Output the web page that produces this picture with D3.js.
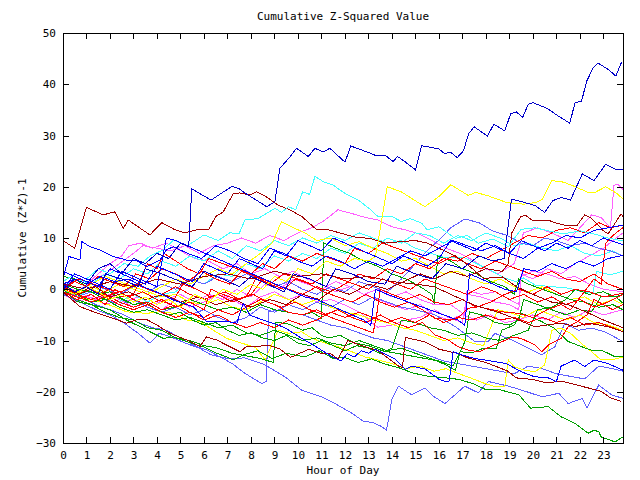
<!DOCTYPE html>
<html><head><meta charset="utf-8">
<script src="https://cdn.jsdelivr.net/npm/d3@7"></script>
<style>
body{margin:0;background:#fff;}
text{font-family:"DejaVu Sans Mono",monospace;font-size:11px;fill:#000;}
</style></head>
<body>
<script>
const title = "Cumulative Z-Squared Value";
const xLabel = "Hour of Day";
const yLabel = "Cumulative (Z*Z)-1";
const xTicks = d3.range(0, 24);
const yTicks = [-30, -20, -10, 0, 10, 20, 30, 40, 50];

// [hour, cumulative value]
const s01 = [[0,0],[0.5,2],[1,1],[1.5,4],[2,5],[2.5,3],[3,6],[3.5,5],[4,7],[4.5,6],[5,9],[5.35,8.3],[5.48,19.6],[5.7,19],[6.3,17.4],[7.2,20.1],[7.5,19.6],[7.74,18.8],[8.67,16.1],[9.02,17.1],[9.23,23.6],[9.6,25.5],[9.94,27.5],[10.44,25.9],[10.72,27.5],[11.08,26.8],[11.36,27.5],[12.0,24.8],[12.25,27.95],[12.7,27.2],[13.1,26.5],[13.35,26],[13.7,26.2],[14.05,24.9],[14.24,25.9],[14.55,24.9],[15.0,23.3],[15.26,28.0],[16.0,27.4],[16.25,26.4],[16.47,26.8],[16.78,25.7],[17.04,27.0],[17.27,30.4],[17.5,31.7],[18.06,29.9],[18.34,32.2],[18.8,30.9],[19.05,34.2],[19.3,34.6],[19.56,33.5],[19.8,36.1],[20.0,36.4],[20.6,35.3],[21.08,33.8],[21.57,32.4],[21.79,36.4],[22.07,36.7],[22.28,40.5],[22.57,43.3],[22.78,44.1],[23.2,42.9],[23.53,41.6],[23.77,44.3]];
const s02 = [[0,9.5],[0.5,8],[1.0,16],[1.7,14.5],[2.2,15.1],[2.57,11.9],[2.78,13.5],[3.7,10.6],[4.2,13],[4.77,11.6],[5.19,11],[5.69,11.6],[6.2,11.6],[6.5,14.2],[6.82,15.1],[7.25,18.7],[7.53,18.8],[7.96,18.4],[8.24,19],[8.6,18.2],[9.16,16.4],[9.66,15.5],[10.16,14.2],[10.8,11.6],[11.3,11.6],[12.4,10.2],[13.1,9.9],[13.7,9.0],[14.4,9.3],[15.0,9.5],[15.5,9.0],[16,8],[16.7,6.5],[17.3,4.5],[17.9,2.1],[18.7,2.4],[19.3,0.5],[20,-1],[20.8,-2.5],[21.5,-3],[22.3,-4.5],[23,-6],[23.83,-7.5]];
const s03 = [[0,0.5],[0.7,-1],[1.4,0.5],[2,-1.5],[2.8,-0.5],[3.5,-2],[4.3,-1],[5,-2.5],[5.8,-1.5],[6.5,-3],[7.3,-2],[8,-3.5],[8.8,-2],[9.5,-3],[10.2,-1],[10.9,-2],[11.5,0],[12.2,-1],[13,1],[13.8,0],[14.5,1.5],[15.2,3],[15.8,2],[16.5,3.5],[17.2,2.5],[18,4],[18.7,3.5],[18.95,5],[19.1,11],[19.48,14.2],[19.7,14.4],[19.98,13.4],[20.7,13.4],[21.0,12.9],[21.43,12.4],[21.87,12.4],[22.2,14.5],[22.5,13.8],[23.0,11.4],[23.2,10.8],[23.75,14.7],[23.83,14.2]];
const s04 = [[0,-0.5],[0.72,-3.4],[1.3,-4.4],[2.14,-5.7],[2.7,-6.6],[3.1,-6.0],[3.56,-5.9],[4.0,-7.0],[4.55,-8.6],[5.26,-9.9],[5.83,-11.2],[6.1,-9.3],[6.54,-9.9],[7.1,-11.2],[7.53,-12.2],[7.8,-11.2],[8.8,-11],[9.25,-11.7],[9.68,-13.3],[10.47,-11.7],[11.05,-12.6],[11.4,-12.6],[11.7,-13.6],[12.13,-10],[12.7,-11],[13.42,-12],[14.28,-15],[14.45,-15.3],[14.57,-9.4],[15.43,-10.3],[16.0,-11.7],[16.87,-12.6],[17.16,-13.3],[18.0,-14.3],[18.9,-15.9],[19.3,-17.3],[20.0,-17.6],[20.6,-18.3],[21.2,-17.9],[22.05,-18.9],[22.9,-19.9],[23.3,-21.2],[23.77,-21.9]];
const s05 = [[0,1],[1,0],[2,1.5],[3,0.5],[4,2],[5,1],[6,2.5],[7,3],[8,2],[9,3.5],[10,2.5],[11,3],[12,2],[13,2.5],[14,1.5],[15,1],[15.8,0.5],[16.5,-1],[17.5,-3.1],[18.67,-4.7],[20.08,-7.3],[21.2,-6.6],[21.8,-7.3],[22.35,-6.6],[23.2,-7.3],[23.83,-8.3]];
const s06 = [[0,1],[0.5,-0.5],[1,0.5],[1.5,-1],[1.8,3],[2.5,2],[3.2,0.5],[3.5,4],[4.2,3],[5,1.5],[5.5,0.5],[6,3.5],[6.8,2],[7.5,0.5],[8,2.5],[8.7,1],[9.4,-0.5],[9.8,3],[10.5,2],[11.2,0.5],[11.6,4],[12.3,3],[13,1.5],[13.7,1],[14.2,4.5],[15,3],[15.7,2],[16.3,5],[17,4],[17.7,6.5],[18.3,5.5],[18.77,6],[19.09,17.6],[19.6,17],[20.1,16.3],[20.5,15],[20.85,17.3],[21.2,17.9],[21.6,17.4],[22.1,22.5],[22.6,21.2],[23.1,24.4],[23.55,23.3],[23.83,23.3]];
const s07 = [[0,0],[0.5,-1],[1,0.5],[1.5,-0.5],[2,-2],[2.5,-1],[3,-2.5],[3.5,-1.5],[4,-3],[4.5,-2],[5,-3.5],[5.6,-1],[6.2,-2.5],[6.8,0],[7.4,-1],[8,1],[8.5,0],[9,2.5],[9.5,1.5],[10,4],[10.6,3],[11.2,5.5],[11.8,4.5],[12.4,6],[13,5.5],[13.3,6.4],[13.8,20],[14.4,19],[15.4,16.1],[16.0,18.1],[16.5,20.4],[17.25,18.3],[17.55,18.9],[18.05,18.3],[18.9,16.9],[19.6,16.6],[20.1,16.9],[20.4,17.5],[20.8,21.2],[21.3,20.9],[21.7,20.2],[22.35,18.9],[22.6,18.8],[23.1,20],[23.6,18.6],[23.83,17.6]];
const s08 = [[0,1.5],[0.5,3],[1,2],[1.5,4],[2,3],[2.6,5],[3.2,4.5],[3.7,6.5],[4.27,7.7],[4.7,9.6],[5.3,8.5],[6.0,10.6],[6.6,9.5],[7.1,11],[7.5,10.9],[7.74,13.5],[8.3,13.8],[9.02,15.8],[9.3,15],[9.6,16.1],[9.9,15.5],[10.2,19],[10.5,18.5],[10.72,22],[11.08,21],[11.5,20.3],[12,18.7],[12.57,17.4],[13.1,15.5],[13.4,14.2],[14,14.2],[14.4,13.2],[14.77,13.8],[15.26,12.9],[15.5,11.6],[16,12.2],[16.7,9.9],[17.2,10.5],[17.67,9],[18.3,9.8],[18.95,8.3],[19.5,11.7],[20.1,12],[20.65,11.4],[21.3,10.8],[22,11.4],[22.6,10.8],[23.1,10.1],[23.83,9.4]];
const s09 = [[0,0.5],[0.6,2],[1.2,1],[1.8,3],[2.4,2],[3,4],[3.6,3],[4.2,5.5],[4.8,4.5],[5.4,6.5],[6,5.5],[6.6,7.5],[7.2,6],[7.8,8.5],[8.4,7.5],[9,9.5],[9.6,8.5],[10.2,10],[10.8,9],[11.4,10.5],[12,9.5],[12.6,11],[13.2,10],[13.8,9],[14.4,9.5],[15,8],[15.8,6.8],[16.3,6.1],[17.1,6.1],[17.7,4.8],[18.27,3.5],[18.8,2.2],[19.26,1.5],[19.6,2.2],[20.1,0.8],[20.84,0.5],[21.56,0.2],[22.1,-0.5],[22.56,-0.8],[22.7,3.5],[23.28,2.8],[23.83,3.5]];
const s10 = [[0,-0.5],[0.6,-1.5],[1.2,0],[1.8,-1],[2.4,-2.5],[3,-1],[3.6,-2.5],[4.2,-1],[4.8,-0.5],[5.4,2],[6,1],[6.6,3],[7.2,2.5],[7.8,5],[8.4,4],[9,6.5],[9.6,5.5],[10.2,7],[10.8,6],[11.4,8],[12,7],[12.6,9],[13.2,8],[13.8,10],[14.4,9],[15,11],[15.6,10.5],[16.2,9],[16.8,10.5],[17.4,9.5],[18,11],[18.6,10],[19.2,8.5],[19.8,9],[20.4,8],[21,7.5],[21.6,8.5],[22.2,7],[22.8,6.5],[23.4,7.5],[23.83,6.5]];
const s11 = [[0,-1],[0.6,-0.5],[1.2,1.5],[1.8,3],[2.4,5],[3,7],[3.4,8.5],[4,8],[4.6,7.5],[5.2,8.5],[5.8,7],[6.4,8.5],[7,9],[7.6,10],[8.2,9],[8.8,10.5],[9.4,9.5],[10,11],[10.6,12],[11.15,13.5],[11.7,15.5],[12.28,14.8],[12.7,14.2],[13.4,13.5],[14,12.2],[14.55,11.6],[15.1,10.9],[15.7,9.5],[16.3,8],[16.9,7],[17.5,5.5],[18,4],[18.5,3],[19.2,5],[19.6,11],[20.2,12],[20.8,11],[21.5,9.5],[22.0,12],[22.5,14.5],[22.9,14],[23.3,12],[23.45,20.3],[23.6,20.5],[23.83,19.5]];
const s12 = [[0,0.5],[0.7,-0.5],[1.3,-2],[2,-1],[2.6,-2.5],[3.2,-1.5],[3.8,-3],[4.4,-2],[5,-1],[5.6,-2.5],[6.2,-1],[6.8,-2],[7.4,0],[8,-1.5],[8.6,1],[9.2,0],[9.8,2],[10.4,1],[11,0],[11.6,1.5],[12.2,0.5],[12.8,-1],[13.4,0],[14,-1.5],[14.6,-0.5],[15.2,-2],[15.8,-3],[16.5,-3],[17.1,-5],[17.2,-0.2],[17.8,-1],[18.4,-0.5],[19,-2],[19.4,-3],[19.5,3],[20,2],[20.6,4],[21.2,3],[21.8,5],[22.4,6.5],[23,8],[23.4,9.5],[23.83,11]];
const s13 = [[0,-1],[0.6,-2.5],[1.2,-1.5],[1.8,-3],[2.4,-2],[3,-3.5],[3.6,-2.5],[4.2,-4],[4.8,-2],[5.4,-3.5],[6,-2.5],[6.6,-1],[7.2,-2],[7.8,-3.5],[8.4,-1.5],[9,-0.5],[9.6,-2],[10.2,-1],[10.8,-2.5],[11.4,-2],[12,-3.1],[12.7,-4.7],[13.1,-6.4],[13.4,-7.4],[14,-7],[14.6,-6],[15.2,-5.5],[15.8,-4],[16.4,-5.5],[17,-6.5],[17.2,-1],[17.8,-1.5],[18.4,-2.5],[19,-3],[19.4,-4],[19.5,2.5],[20,3.5],[20.6,3],[21.2,2],[21.8,2.5],[22.4,1],[23,0],[23.83,-0.5]];
const s14 = [[0,0.5],[0.5,2],[1,1],[1.5,3],[2,5],[2.5,6.5],[2.8,8.5],[3.3,9],[3.8,8],[4.4,9],[5,7.5],[5.6,6],[6.2,5.5],[6.8,4],[7.4,5],[8,3],[8.6,4],[9.2,2.5],[9.8,3.5],[10.4,2],[11,1],[11.6,-0.5],[12.2,0.5],[12.8,-1],[13.4,-2],[14,-3],[14.6,-4],[15.2,-3],[15.8,-5],[16.4,-6],[17,-5],[17.6,-6],[18.2,-5],[18.8,-6.5],[19.4,-6],[20,-5],[20.6,-6],[21.2,-4.5],[21.8,-5.5],[22.4,-4],[23,-5],[23.83,-4]];
const s15 = [[0,0],[0.5,1.5],[1,0.5],[1.5,2.5],[2,1.5],[2.6,0.5],[3.1,3],[3.7,2],[4.2,4],[4.8,3],[5.3,1.5],[5.9,3.5],[6.5,2],[7.1,1],[7.6,3.5],[8.2,2.5],[8.8,1],[9.4,0],[9.9,2],[10.5,1],[11.1,-0.5],[11.7,-1.5],[12.3,-2.5],[12.9,-1],[13.5,-2.5],[14.1,-3.5],[14.7,-2.5],[15.3,-4],[15.83,-5.7],[16.7,-6],[17.25,-3.7],[17.67,-3.4],[18.67,-4.4],[19.4,-4.7],[20,-5.5],[20.6,-4],[21.2,-3],[21.6,-4],[22.1,-1],[22.6,2],[22.9,1],[23.1,9],[23.4,10.5],[23.83,12]];
const s16 = [[0,-0.5],[0.6,-2],[1.2,-1],[1.8,-3],[2.2,0],[2.8,-1.5],[3.4,-0.5],[4,-2],[4.6,-3],[5.1,1],[5.7,0],[6.3,-1.5],[6.9,-0.5],[7.5,-2],[8.1,-1],[8.7,-2.5],[9.3,-3.5],[9.9,-2.5],[10.5,-4],[11.1,-5],[11.7,-4],[12.3,-5.5],[12.9,-6.5],[13.5,-5],[14.1,-6.5],[14.7,-7.5],[15.3,-6.5],[15.83,-8.9],[16.4,-9.9],[16.8,-11.2],[17.25,-11.9],[17.7,-12.2],[18.3,-11],[18.8,-10],[19.1,-9.3],[19.5,-9.6],[20.1,-10.9],[20.37,-12.2],[20.65,-10.9],[21.2,-9.6],[21.5,-7.3],[21.8,-6.6],[22.3,-5],[22.6,-2],[23,-3],[23.4,-4],[23.83,-3]];
const s17 = [[0,1],[0.5,-0.5],[1,0.5],[1.5,-1],[2,0],[2.5,-1.5],[3,-1],[3.4,3],[3.6,5],[4,4],[4.3,7],[4.8,5.5],[5.3,4],[5.8,3],[6.2,6],[6.8,5],[7.4,4],[8,3],[8.5,5],[9,4],[9.6,6.5],[10.2,5.5],[10.8,7],[11.4,6],[12,5],[12.4,8],[13,7],[13.6,9],[14.2,8],[14.8,7],[15.4,6],[16,5],[16.6,6.5],[17.2,5],[17.8,4],[18.4,5.5],[19,4.5],[19.6,3.5],[20.2,2.5],[20.8,3.5],[21.4,2],[22,1.5],[22.6,3],[23.2,1],[23.83,0]];
const s18 = [[0,0.5],[0.6,-1],[1.2,0],[1.8,-1.5],[2.4,-0.5],[3,-2],[3.6,-3],[4.2,-2],[4.8,-3.5],[5.4,-2.5],[6,-4],[6.3,0],[6.8,-1],[7.4,-2],[8,-1],[8.5,2],[9,1],[9.6,0],[10.2,-1],[10.8,0.5],[11.4,-0.5],[12,1],[12.6,3],[13.2,2],[13.8,4],[14.4,3],[15,5],[15.6,4],[16.2,6],[16.8,5.5],[17.4,7],[18,6],[18.6,7.5],[19.2,9],[19.8,10.5],[20.4,10],[21,11.5],[21.6,12],[22.2,11],[22.8,13],[23.3,12],[23.83,12.5]];
const s19 = [[0,-0.5],[0.6,-1.5],[1.2,-2.5],[1.8,-1.5],[2.4,-3],[3,-4],[3.6,-3],[4.2,-4.5],[4.8,-5.5],[5.4,-4.5],[6,-6],[6.6,-5],[7.2,-6.5],[7.8,-7.5],[8.4,-6.5],[9,-7.5],[9.6,-6],[10.2,-7],[10.8,-6],[11.4,-4.5],[12,-5.5],[12.6,-4.5],[13.2,-5.5],[13.8,-6.5],[14.4,-5.5],[15,-6.5],[15.6,-5],[16.2,-6.5],[16.8,-5.5],[17.4,-6],[18,-5],[18.6,-6],[19.2,-5.5],[19.8,-6.5],[20.4,-5.5],[21,-6.5],[21.6,-5.5],[22.2,-7],[22.8,-6.5],[23.4,-7.5],[23.83,-8.3]];
const s20 = [[0,0],[0.6,-1],[1.2,-2],[1.8,-1],[2.4,-2.5],[3,-3.5],[3.6,-2.5],[4.2,-4],[4.8,-3],[5.4,-4.5],[6,-5.5],[6.6,-4],[7.2,-5],[7.8,-3.5],[8.4,-2],[9,-3],[9.6,-4.5],[10.2,-5],[10.8,-4],[11.4,-5.5],[12,-6.5],[12.6,-7.5],[13.2,-8.5],[13.35,-5],[13.5,0],[14,-1],[14.6,-2],[15.2,-1],[15.8,-2.5],[16.4,-3],[17,-2],[17.6,-3.5],[18.2,-2.5],[18.8,-1],[19.4,0],[20,-1],[20.6,0.5],[21.2,-1],[21.8,0],[22.4,-0.5],[23,-1.5],[23.83,-0.8]];
const s21 = [[0,0.5],[0.7,2],[1.3,1],[1.9,0],[2.5,-0.5],[3.1,1],[3.6,0],[4.2,-1],[4.8,0.5],[5.4,-1],[6,-2],[6.6,-1],[7.2,-2.5],[7.8,-1.5],[8.2,2],[8.8,1],[9.4,3],[10,2],[10.6,1],[11.2,3],[11.8,2],[12.4,1],[13,0],[13.6,2],[14.2,1],[14.8,0],[15.4,2],[16,1],[16.6,0],[17.2,-1],[17.8,0.5],[18.4,-0.5],[19,-2],[19.6,-1],[20.2,-2.5],[20.8,-1.5],[21.4,-3],[22,-2],[22.6,-3.5],[23.2,-2.5],[23.83,-1]];
const s22 = [[0,0],[0.58,-2.4],[1.29,-3.1],[2.0,-4],[2.7,-6],[3.28,-7.3],[3.84,-8.6],[4.27,-9.6],[4.7,-9.3],[5.26,-10.2],[5.7,-10.9],[5.97,-11.2],[6.54,-12.5],[6.97,-13.2],[7.25,-13.8],[7.67,-12.8],[8.3,-12],[8.9,-13.5],[9.5,-12.5],[10.3,-13.2],[10.9,-12],[11.5,-13.5],[11.98,-13.3],[12.56,-14.3],[13.13,-13.6],[13.7,-14.6],[14.28,-15.3],[14.86,-16.3],[15.43,-16.9],[16.3,-17.3],[16.87,-17.6],[17.5,-18.5],[18.0,-19.6],[18.5,-19.5],[19.4,-20.6],[19.9,-23.2],[20.4,-23],[20.65,-22.9],[21.2,-24.9],[21.5,-25.5],[21.8,-26.2],[22.35,-28.1],[22.6,-27.5],[22.8,-27.8],[22.9,-28.8],[23.5,-29.8],[23.83,-28.8]];
const s23 = [[0,-0.5],[0.6,-1],[1.2,-2.5],[1.8,-2],[2.4,-3.5],[3,-4.5],[3.6,-4],[4.2,-5],[4.8,-6],[5.4,-5.5],[6,-6.5],[6.6,-7.5],[7.2,-7],[7.8,-8.5],[8.4,-9],[9,-8],[9.6,-9],[10.2,-10],[10.8,-9.5],[11.4,-10.5],[12,-11],[12.6,-10],[13.2,-11],[13.8,-12],[14.4,-11.5],[15,-12.5],[15.83,-13.8],[16.3,-14.8],[16.7,-15.8],[16.9,-12.2],[17.4,-12.4],[17.9,-11.5],[18.45,-11.5],[18.67,-8],[19.2,-7],[19.5,-4.7],[20.08,-5.7],[20.37,-6.3],[20.9,-7.6],[21.5,-10.2],[22.07,-11.2],[22.5,-11.9],[22.9,-11.9],[23.2,-12.5],[23.5,-13.2],[23.83,-13.2]];
const s24 = [[0,-0.5],[0.6,-2],[1.2,-3],[1.8,-4.5],[2.4,-5.5],[3,-6],[3.6,-7.5],[4.2,-8],[4.8,-9.5],[5.4,-10],[6,-11],[6.6,-11.5],[7.2,-12.5],[7.8,-13],[8.4,-13.5],[8.95,-14.3],[9.05,-6.4],[9.6,-6.8],[10.2,-8],[10.6,-7.5],[11.0,-9],[11.3,-9.5],[11.8,-9],[12.4,-10.5],[13,-11],[13.6,-12],[14.2,-12.5],[14.8,-13],[15.4,-13.5],[16,-14],[16.6,-15],[17.1,-10.3],[17.3,-4.4],[17.8,-5],[18.4,-6.5],[19,-7],[19.4,-6],[19.6,-2],[20.2,-3],[20.8,-4],[21.4,-5],[22,-4],[22.5,-4.4],[22.9,-1.4],[23.5,-1.4],[23.83,-2.7]];
const s25 = [[0,1],[0.6,0],[1.2,-0.5],[1.8,-2],[2.4,-1.5],[3,-3],[3.6,-2.5],[4.2,-4],[4.8,-3.5],[5.4,-2],[6,-3],[6.6,-4],[7.2,-3.5],[7.8,-4.5],[8.4,-3],[9,-4],[9.6,-4.5],[10.2,-5],[10.6,-4.5],[11.0,-5.6],[11.1,9],[11.6,8],[12.2,7],[12.8,5.5],[13.4,4.5],[14,3],[14.6,2],[15.2,0.5],[15.7,-1],[15.8,-2.9],[15.95,6.5],[16.5,5.5],[17,4],[17.6,3],[18.2,1.5],[18.8,0.5],[19.2,-1],[19.4,2],[19.8,1],[20.4,0],[21,-1],[21.6,-2],[22.2,-2.5],[22.8,-3.5],[23.4,-3],[23.83,-4]];
const s26 = [[0,2.5],[0.5,2],[1,0.5],[1.5,-1],[2,-0.5],[2.5,-2],[3,-3],[3.5,-2.5],[4,-4],[4.5,-5],[5,-4.5],[5.5,-6],[6,-7],[6.5,-6.5],[7,-8],[7.5,-9],[8,-8.5],[8.5,-9.5],[9,-10],[9.5,-9],[10,-10.5],[10.5,-11],[11,-10],[11.5,-11],[12,-12],[12.5,-11],[13,-11.5],[13.5,-12.5],[14,-11.5],[14.4,-6],[15,-6.5],[15.6,-7.5],[16.2,-8],[16.8,-9],[17.4,-8.5],[18,-9.5],[18.6,-10],[19.2,-9],[19.8,-8],[20.2,-4],[20.8,-3.5],[21.4,-2],[21.8,0],[22.4,-1],[23,-0.5],[23.5,-1.5],[23.83,-1]];
const s27 = [[0,-1],[0.7,-2.4],[1.4,-4],[2,-5],[2.6,-6.6],[3.2,-8.6],[3.7,-10.5],[4.1,-8.6],[4.6,-9.3],[5.2,-10.5],[5.8,-11.5],[6.3,-12.8],[7,-13.5],[7.74,-13.4],[8.57,-14.7],[9.45,-17.1],[10.16,-19.7],[11.0,-21],[11.57,-22.3],[12.3,-24.2],[12.8,-25.8],[13.2,-26],[13.56,-26.8],[13.77,-27.5],[13.99,-21.6],[14.27,-18.9],[14.84,-20.6],[15.4,-19.3],[15.8,-21],[16.26,-22.3],[17.1,-18.9],[17.67,-20.2],[18.1,-18],[18.95,-18.9],[19.4,-19.5],[20.4,-21],[21.1,-20.3],[21.5,-22.3],[22.1,-21.3],[22.3,-23.2],[22.8,-18.7],[23.35,-20.6],[23.83,-21.3]];
const s28 = [[0,-0.5],[0.7,-1.5],[1.4,-3],[2,-4],[2.6,-5],[3.2,-6.5],[3.8,-7.5],[4.4,-8],[5,-9.5],[5.6,-11],[6.2,-12],[6.8,-13.5],[7.2,-14.5],[7.74,-16.4],[8.46,-18.4],[8.65,-18],[8.75,-4.4],[9.2,-4],[9.6,-4.5],[10.2,-5],[10.8,-6],[11.4,-7],[12,-7.5],[12.6,-8.5],[13.2,-9.5],[13.8,-10],[14.4,-11],[15,-12],[15.6,-13],[16.2,-14],[16.8,-14.5],[17.4,-15],[18,-15.5],[18.6,-16],[19.2,-16.5],[19.8,-15],[20.4,-15.5],[21,-16.5],[21.6,-17],[22.2,-17.5],[22.8,-15],[23.4,-15.5],[23.83,-16]];
const s29 = [[0,0],[0.6,-1.5],[1.2,-0.5],[1.8,-2],[2.4,-3],[3,-2],[3.6,-3.5],[4.2,-4.5],[4.8,-3.5],[5.4,-5],[6,-4],[6.6,-5.5],[7.2,-6.5],[7.8,-5.5],[8.4,-3.5],[9,-4.5],[9.6,-3],[10.2,-4],[10.8,-2.5],[11.4,-3.5],[12,-2],[12.6,-3],[13.2,-1.5],[13.8,-2.5],[14.4,-3.5],[15,-4],[15.83,-5],[16.7,-7.3],[17.53,-10.2],[18.1,-10.2],[18.38,-8.6],[19.1,-9.9],[19.66,-11.2],[20.37,-12.8],[20.94,-11.2],[21.36,-6.6],[21.93,-8.0],[22.5,-7.6],[23.06,-8.3],[23.83,-10.2]];
const s30 = [[0,0.5],[0.6,-0.5],[1.2,1],[1.8,0],[2.4,-1],[3,0.5],[3.6,-0.5],[4.2,1],[4.8,0],[5.4,2],[6,1],[6.6,2.5],[7.2,1.5],[7.8,3],[8.4,2],[9,0.5],[9.6,1.5],[10.2,0],[10.8,-1],[11.4,0.5],[12,-0.5],[12.6,1.5],[13.2,0.5],[13.8,-0.5],[14.4,2],[15,5],[15.6,8],[16.1,10],[16.5,12],[17.1,13.7],[17.7,13],[18.27,11.4],[18.9,10.5],[19.5,9],[20,8.5],[20.5,10],[21,9.5],[21.6,8.5],[22.2,9],[22.8,8],[23.3,7.5],[23.83,6.5]];
const s31 = [[0,-0.5],[0.6,-1.5],[1.3,-2.1],[2,-3.1],[2.7,-4.4],[3.56,-4.7],[4.13,-4.4],[4.7,-4.7],[5.26,-6],[5.83,-6.3],[6.4,-8],[6.97,-9.6],[7.67,-10.6],[8.2,-11.4],[8.6,-13.8],[9.16,-8],[9.6,-8.6],[10.16,-8.3],[10.6,-9.6],[11.15,-10.5],[11.7,-11.2],[12.3,-12.2],[12.85,-13.2],[13.4,-13.8],[14,-14.5],[14.6,-15.5],[15.2,-15],[15.8,-16],[16.3,-15.5],[16.8,-16.4],[17.4,-17.4],[17.96,-18.4],[18.38,-19],[18.8,-19],[18.95,-13.8],[19.2,-15.1],[19.66,-15.8],[20.08,-16.1],[20.5,-14.8],[20.8,-8],[21.2,-7.6],[21.6,-8.6],[22.07,-10.6],[22.5,-12.2],[22.9,-13.8],[23.35,-13.8],[23.83,-13.2]];
const s32 = [[0,0],[0.6,-1],[1.2,0.5],[1.8,-0.5],[2.4,1],[3,0],[3.6,-1],[4.2,0.5],[4.8,2],[5.4,1],[6,2.5],[6.6,4],[7.2,3],[7.8,5],[8.4,7],[8.9,9],[9.3,13.2],[9.8,12],[10.3,11],[10.8,9.5],[11.4,10],[12,8.5],[12.6,9.3],[13.2,8],[13.8,7],[14.4,5.5],[15,6],[15.6,4.5],[16.2,3],[16.8,3.5],[17.4,2],[18,1],[18.6,2],[19.2,0.5],[19.8,-0.5],[20.4,0.5],[21,-1],[21.6,-2],[22.2,-1.5],[22.8,-3],[23.4,-2],[23.83,-3]];
const s33 = [[0,0.5],[0.6,-0.5],[1.2,1],[1.8,2.5],[2.4,1.5],[3,0.5],[3.6,-0.5],[4.2,-1.5],[4.8,-1],[5.4,-2.5],[6,-3],[6.6,-2],[7.2,-3.5],[7.8,-4],[8.4,-2.5],[9,-1],[9.6,-2],[10.2,-3],[10.8,-2],[11.4,-3.5],[12,-4.5],[12.6,-5],[13.2,-6],[13.8,-6.5],[14.4,-7.5],[15,-8],[15.6,-9],[16.2,-10],[16.8,-9.5],[17.4,-10.5],[17.9,-11],[18.5,-4],[19,-4.5],[19.6,-5.5],[20.2,-4],[20.8,-5],[21.4,-6],[22,-5],[22.6,-6.5],[23.2,-7],[23.83,-8]];
const s34 = [[0,2],[0.25,6.4],[0.72,5.7],[0.8,9.3],[1.15,8.3],[1.57,7.7],[2.14,6.4],[2.7,5.7],[3.1,5.7],[3.56,4.4],[4.13,5.7],[4.4,7.7],[4.7,8.3],[5.3,7],[5.9,6],[6.5,8.5],[7.1,7.5],[7.7,6],[8.3,5],[8.8,8],[9.4,7],[10,5.5],[10.6,4.5],[11.2,6.5],[11.8,5.5],[12.4,4],[13,5.5],[13.6,4.5],[14.2,6],[14.8,7.5],[15.4,6.5],[16,8],[16.6,9.5],[17.2,8.5],[17.8,7.5],[18.4,8.5],[19,7],[19.6,6],[20.2,8],[20.8,9],[21.4,10.5],[22,10],[22.6,11.5],[23.2,12],[23.83,12.5]];
const s35 = [[0,1],[0.5,2],[1,1],[1.6,2.5],[2.2,1.5],[2.8,2],[3.4,0.5],[4.13,-0.8],[4.7,-2.1],[5.55,-3.4],[6.1,-6.3],[6.97,-6.3],[7.4,-6.6],[7.67,-2.7],[7.96,-5.1],[9.4,-7.4],[10.1,-9.4],[10.8,-11.3],[11.4,-13],[11.83,-14],[12.1,-12.6],[12.4,-13.2],[12.7,-12],[13,-12.5],[13.28,-11.7],[13.7,-12.6],[14.14,-13.6],[14.57,-15.6],[14.86,-15],[15.43,-15.6],[16.0,-17.6],[16.26,-18],[16.44,-17.9],[16.6,-12.2],[16.97,-12.8],[17.5,-13.5],[17.96,-13.8],[18.87,-14.5],[19.5,-16.1],[20.08,-17.1],[20.6,-17.2],[21.0,-18],[21.2,-15],[21.78,-13.8],[22.2,-15.1],[22.6,-13.8],[23.2,-14.5],[23.83,-15.8]];
const s36 = [[0,3.5],[0.5,2.5],[1,1.5],[1.5,0.5],[2,4],[2.5,3],[3,2],[3.5,1],[4,4.5],[4.5,3.5],[5,2.5],[5.5,1.5],[6,5],[6.5,4],[7,3],[7.5,6],[8,5],[8.5,4],[9,7.5],[9.5,6.5],[10,9.5],[10.5,8.5],[11,7.5],[11.5,10],[12,9],[12.5,8],[13,7],[13.5,6],[14,5],[14.5,6.5],[15,5.5],[15.5,4.5],[16,6],[16.5,9.5],[17,8.5],[17.5,7.5],[18,9],[18.5,8],[19,7],[19.5,9.5],[20,8.5],[20.5,7.5],[21,9],[21.5,8],[22,9.5],[22.5,8.5],[23,10],[23.83,8.7]];
const s37 = [[0,0],[0.5,3],[1,2],[1.5,1],[2,0],[2.5,3.5],[3,2.5],[3.5,1.5],[4,0.5],[4.4,10],[4.8,9.5],[5.3,8.5],[5.8,7.5],[6.3,6.5],[6.8,5.5],[7.3,4.5],[7.8,3.5],[8.3,2.5],[8.8,1.5],[9.3,0.5],[9.8,-0.5],[10.3,-1.5],[10.8,-2],[11.3,-3],[11.8,-4],[12.3,-5],[12.8,-6],[13.1,-7],[13.3,0],[13.8,-1],[14.4,-2],[15,-3],[15.6,-4],[16.2,-5],[16.8,-6],[17.1,-7],[17.3,3],[17.8,2],[18.3,1],[18.8,0],[19.3,-0.5],[19.6,4],[20.2,3.5],[20.8,5],[21.4,4],[22,5.5],[22.6,4.5],[23.2,6],[23.83,6.6]];

const RED="#ff0000", GREEN="#00a000", BLUE="#0000ff", NAVY="#0000c8", LBLUE="#6060ff",
      CYAN="#40ffff", PINK="#ff60ff", DRED="#a00000", YELLOW="#ffff00";
const seriesList = [s14,s11,s12,s13,s09,s10,s30,s29,s27,s28,s31,s32,s33,s22,s23,s24,s25,s26,
                    s15,s16,s17,s18,s19,s20,s21,s05,s04,s03,s02,s08,s07,s34,s35,s36,s37,s06,s01];
const seriesColors = [PINK,PINK,PINK,PINK,CYAN,CYAN,LBLUE,LBLUE,LBLUE,LBLUE,YELLOW,YELLOW,YELLOW,GREEN,GREEN,GREEN,GREEN,GREEN,
                      RED,RED,RED,RED,RED,RED,RED,DRED,DRED,DRED,DRED,CYAN,YELLOW,BLUE,BLUE,BLUE,BLUE,NAVY,NAVY];

const W = 640, H = 480;
const L = 63, R = 623, T = 33, B = 443;
const x = d3.scaleLinear().domain([0, 23.8333]).range([L, R]);
const y = d3.scaleLinear().domain([-30, 50]).range([B, T]);

const svg = d3.select("body").append("svg").attr("width", W).attr("height", H);
svg.append("rect").attr("width", W).attr("height", H).attr("fill", "#fff");

svg.append("clipPath").attr("id", "clip").append("rect")
  .attr("x", L).attr("y", T).attr("width", R - L).attr("height", B - T);

const line = d3.line().x(d => x(d[0])).y(d => y(d[1]));
const g = svg.append("g").attr("clip-path", "url(#clip)");
seriesList.forEach((s, i) => {
  g.append("path").attr("d", line(s)).attr("fill", "none")
    .attr("stroke", seriesColors[i]).attr("stroke-width", 1)
    .attr("shape-rendering", "crispEdges");
});

function styleAxis(sel) {
  sel.select(".domain").remove();
  sel.selectAll("line").attr("stroke", "#000").attr("shape-rendering", "crispEdges");
  sel.selectAll("text").attr("font-family", "DejaVu Sans Mono").attr("font-size", 11).attr("fill", "#000");
}
svg.append("g").attr("transform", `translate(${L},0)`)
  .call(d3.axisLeft(y).tickValues(yTicks).tickSize(-6).tickPadding(7)).call(styleAxis);
svg.append("g").attr("transform", `translate(${R},0)`)
  .call(d3.axisRight(y).tickValues(yTicks).tickSize(-6).tickFormat("")).call(styleAxis);
svg.append("g").attr("transform", `translate(0,${B})`)
  .call(d3.axisBottom(x).tickValues(xTicks).tickSize(-6).tickPadding(8).tickFormat(d3.format("d"))).call(styleAxis);
svg.append("g").attr("transform", `translate(0,${T})`)
  .call(d3.axisTop(x).tickValues(xTicks).tickSize(-6).tickFormat("")).call(styleAxis);

svg.append("rect").attr("x", L + 0.5).attr("y", T + 0.5).attr("width", R - L).attr("height", B - T)
  .attr("fill", "none").attr("stroke", "#000").attr("stroke-width", 1);

svg.append("text").attr("x", (L + R) / 2).attr("y", 20).attr("text-anchor", "middle").text(title);
svg.append("text").attr("x", (L + R) / 2).attr("y", 474).attr("text-anchor", "middle").text(xLabel);
svg.append("text").attr("transform", `translate(26,${(T + B) / 2}) rotate(-90)`).attr("text-anchor", "middle").text(yLabel);
</script>
</body></html>
